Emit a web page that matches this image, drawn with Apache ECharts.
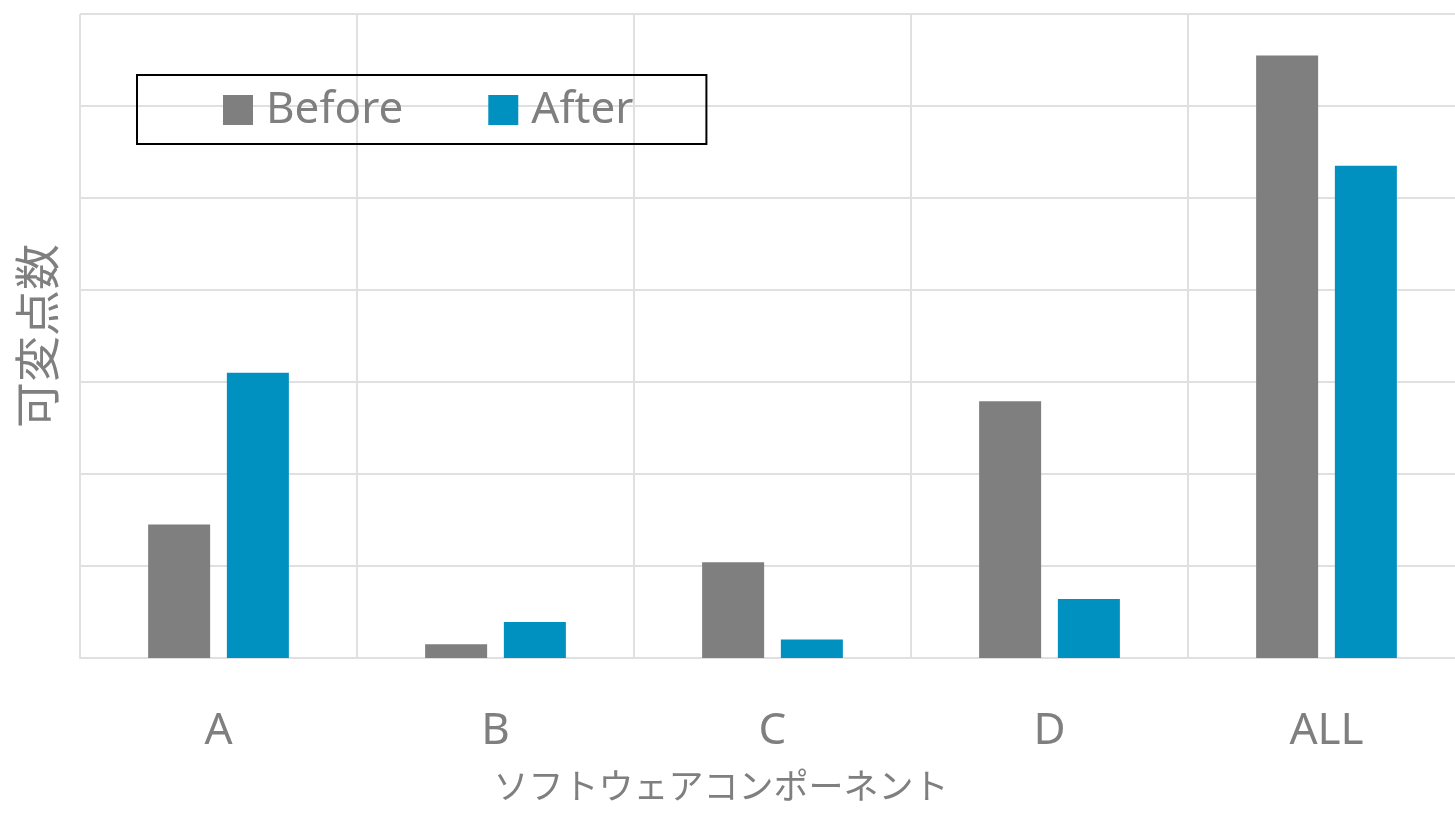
<!DOCTYPE html>
<html>
<head>
<meta charset="utf-8">
<script src="https://cdn.jsdelivr.net/npm/echarts@6/dist/echarts.min.js"></script>
<style>
  html, body { margin: 0; padding: 0; background: #fff; }
  #main { width: 1455px; height: 813px; }
</style>
</head>
<body>
<div id="main"></div>
<script>
// カテゴリと系列データ（目盛り1つ = 1単位として読み取り）
const categories = ['A', 'B', 'C', 'D', 'ALL'];
const beforeValues = [1.45, 0.15, 1.04, 2.79, 6.55];
const afterValues = [3.10, 0.39, 0.20, 0.64, 5.35];
const yMin = 0;
const yMax = 7;
const yStep = 1;

const gridColor = '#e0e0e0';
const textColor = '#7f7f7f';
const latinFont = '"Noto Sans", "Open Sans", sans-serif';
const cjkFont = '"Noto Sans CJK JP", sans-serif';

const chart = echarts.init(document.getElementById('main'));

const option = {
  animation: false,
  backgroundColor: '#fff',
  grid: {
    left: 80,
    top: 14,
    bottom: 155,
    right: -10,
    containLabel: false,
    outerBoundsMode: 'none'
  },
  legend: {
    left: 137,
    top: 75,
    orient: 'horizontal',
    padding: [13, 73, 12, 86],
    borderColor: '#000',
    borderWidth: 2,
    icon: 'rect',
    itemWidth: 30,
    itemHeight: 30,
    itemGap: 85,
    textStyle: {
      fontFamily: latinFont,
      fontSize: 44,
      color: textColor,
      padding: [0, 0, 0, 8]
    },
    data: ['Before', 'After']
  },
  xAxis: {
    type: 'category',
    data: categories,
    name: 'ソフトウェアコンポーネント',
    nameLocation: 'middle',
    nameGap: 110,
    nameTextStyle: {
      fontFamily: cjkFont,
      fontSize: 35,
      color: textColor,
      padding: [0, 103, 0, 0]
    },
    axisLine: { lineStyle: { color: gridColor, width: 2 } },
    axisTick: { show: false },
    axisLabel: {
      margin: 51,
      fontFamily: latinFont,
      fontSize: 44,
      color: textColor
    },
    splitLine: {
      show: true,
      interval: 0,
      lineStyle: { color: gridColor, width: 2 }
    }
  },
  yAxis: {
    type: 'value',
    min: yMin,
    max: yMax,
    interval: yStep,
    name: '可変点数',
    nameLocation: 'middle',
    nameGap: 20,
    nameTextStyle: {
      fontFamily: cjkFont,
      fontSize: 46,
      color: textColor
    },
    axisLine: { show: false },
    axisTick: { show: false },
    axisLabel: { show: false },
    splitLine: {
      show: true,
      lineStyle: { color: gridColor, width: 2 }
    }
  },
  series: [
    {
      name: 'Before',
      type: 'bar',
      data: beforeValues,
      barWidth: 62,
      barGap: '27%',
      itemStyle: { color: '#7f7f7f' }
    },
    {
      name: 'After',
      type: 'bar',
      data: afterValues,
      barWidth: 62,
      itemStyle: { color: '#0091c0' }
    }
  ]
};

chart.setOption(option);
</script>
</body>
</html>
